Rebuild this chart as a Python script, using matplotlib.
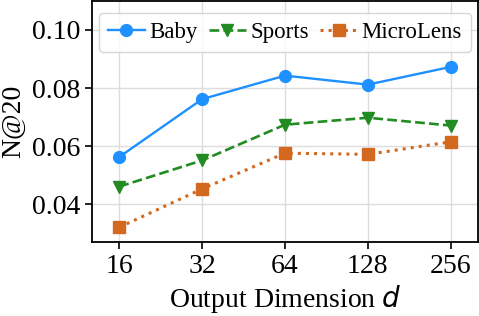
import matplotlib
matplotlib.use("Agg")
import matplotlib.pyplot as plt

# data
dims = ['16', '32', '64', '128', '256']
baby = [0.0563, 0.0762, 0.0843, 0.0812, 0.0873]
sports = [0.0461, 0.0551, 0.0674, 0.0698, 0.0671]
microlens = [0.0321, 0.0453, 0.0576, 0.0572, 0.0615]

plt.rcParams['font.family'] = ['Liberation Serif', 'DejaVu Serif']
plt.rcParams['mathtext.fontset'] = 'dejavusans'

fig = plt.figure(figsize=(4.79, 3.16), dpi=100)
ax = fig.add_axes([0.192, 0.234, 0.806, 0.763])

x = list(range(len(dims)))
ax.plot(x, baby, color='#1E90FF', marker='o', linestyle='-', linewidth=1.7,
        markersize=8.5, label='Baby')
ax.plot(x, sports, color='#228B22', marker='v', linestyle='--', linewidth=1.9,
        markersize=8.5, label='Sports')
ax.plot(x, microlens, color='#D2691E', marker='s', linestyle=':', linewidth=2.2,
        markersize=8.5, label='MicroLens')

ax.set_xticks(x)
ax.set_xticklabels(dims)
ax.set_xlim(-0.33, 4.33)
ax.set_ylim(0.027, 0.110)
ax.set_yticks([0.04, 0.06, 0.08, 0.10])
ax.set_yticklabels(['0.04', '0.06', '0.08', '0.10'])
ax.tick_params(labelsize=20, length=5, width=1.2)
for s in ax.spines.values():
    s.set_linewidth(1.3)
ax.grid(True, color='#dddddd', linewidth=1)
ax.set_axisbelow(True)

ax.set_xlabel('Output Dimension $d$', fontsize=20, labelpad=3)
ax.set_ylabel('N@20', fontsize=20, labelpad=4)
ax.legend(loc='upper center', ncol=3, fontsize=16.5, handlelength=1.6,
          columnspacing=0.5, handletextpad=0.2, borderpad=0.4,
          borderaxespad=0.3, bbox_to_anchor=(0.5, 0.98))

fig.savefig('out.png', dpi=100)
